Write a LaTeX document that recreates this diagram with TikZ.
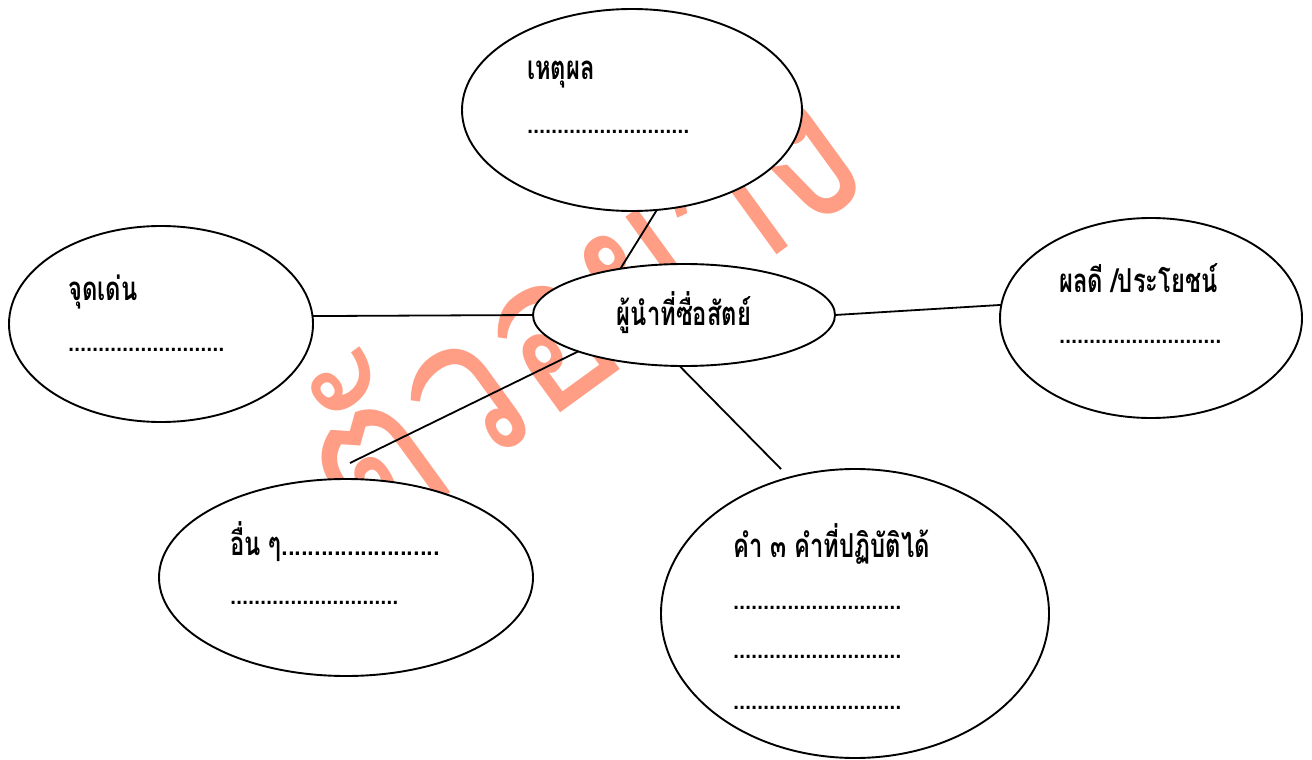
\documentclass[tikz,border=0pt]{standalone}
\usepackage{fontspec}
\usetikzlibrary{shapes.geometric}
\newfontfamily\thaicond[Script=Thai,FakeStretch=0.72]{Loma}
\newfontfamily\thaiwm[Script=Thai,FakeStretch=0.85]{Loma}
\definecolor{wmcol}{RGB}{255,158,132}
\begin{document}
\begin{tikzpicture}[x=1pt,y=-1pt,
  bubble/.style={ellipse,draw=black,fill=white,line width=1.9pt,inner sep=0pt,outer sep=0pt},
  lbl/.style={anchor=base west,inner sep=0pt,font=\thaicond\bfseries\fontsize{33}{35}\selectfont},
  dotline/.style={anchor=base west,inner sep=0pt,font=\thaicond\bfseries\fontsize{30}{32}\selectfont},
  conn/.style={draw=black,line width=1.8pt},
  wmtext/.style={text=wmcol,inner sep=0pt,font=\thaiwm\fontsize{215}{215}\selectfont}]
\useasboundingbox (0,0) rectangle (1312,760);
\fill[white] (0,0) rectangle (1312,760);
% watermark
\node[wmtext,rotate=36] (wm) at (570,300) {ตัวอย่าง};
% bubbles
\node[bubble,minimum width=340pt,minimum height=202pt] (T) at (632,110) {};
\node[bubble,minimum width=304pt,minimum height=196pt] (L) at (161,324) {};
\node[bubble,minimum width=302pt,minimum height=102pt] (C) at (684,315) {};
\node[bubble,minimum width=302pt,minimum height=200pt] (R) at (1151,318) {};
\node[bubble,minimum width=374pt,minimum height=197pt] (BL) at (346,577.5) {};
\node[bubble,minimum width=388pt,minimum height=289pt] (BR) at (855,613.5) {};
% free ends
\coordinate (blend) at (350,463);
\coordinate (brend) at (781,469);
% connectors
\draw[conn] (T.-76) -- (C.144.5);
\draw[conn] (L.3.4) -- (C.west);
\draw[conn] (C.east) -- (R.175.5);
\draw[conn] (C.199.1) -- (blend);
\draw[conn] (C.265.6) -- (brend);
% texts
\node[lbl] (Tt) at (527,80) {เหตุผล};
\node[dotline] (Td) at (527,133) {...........................};
\node[lbl] (Lt) at (68,300) {จุดเด่น};
\node[dotline] (Ld) at (68,351) {..........................};
\node[lbl,anchor=base] (Ct) at (684,325) {ผู้นำที่ซื่อสัตย์};
\node[lbl] (Rt) at (1059,292) {ผลดี /ประโยชน์};
\node[dotline] (Rd) at (1059,343) {...........................};
\node[lbl] (BLt) at (230,555) {อื่น ๆ........................};
\node[dotline] (BLd) at (230,604) {............................};
\node[lbl] (BRt) at (733,557) {คำ ๓ คำที่ปฏิบัติได้};
\node[dotline] (BRd1) at (733,609) {............................};
\node[dotline] (BRd2) at (733,658) {............................};
\node[dotline] (BRd3) at (733,709) {............................};
\end{tikzpicture}
\end{document}
